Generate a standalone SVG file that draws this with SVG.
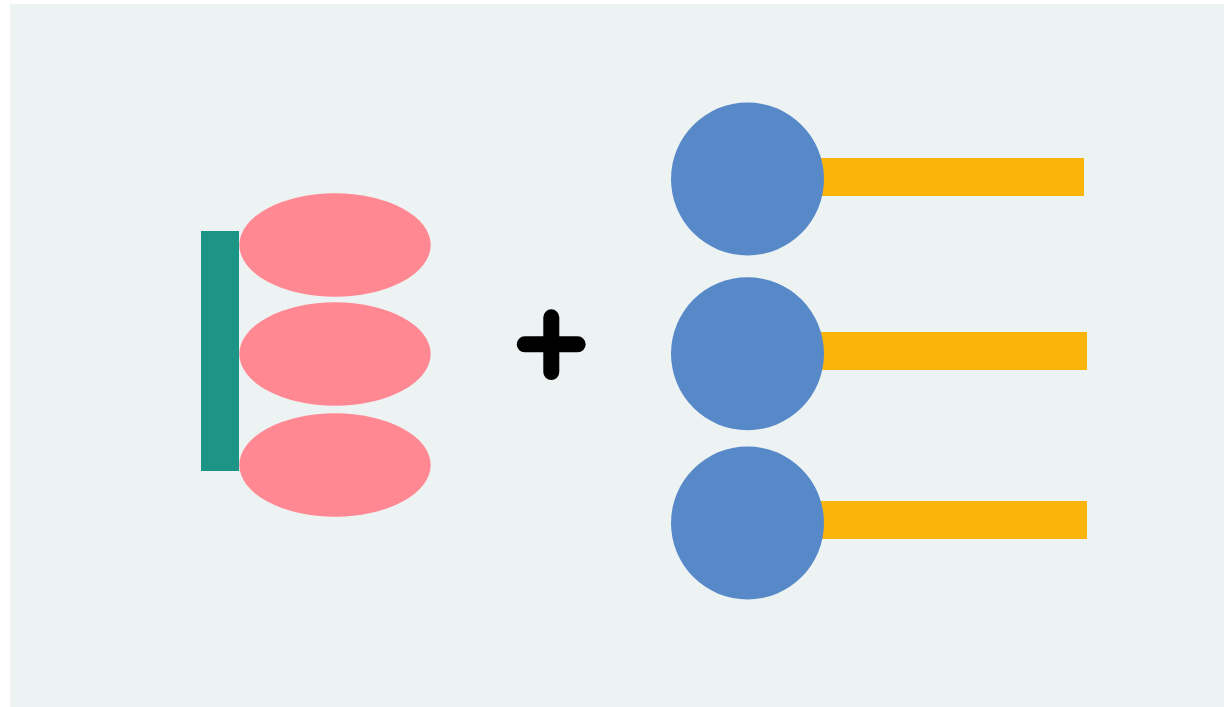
<svg xmlns="http://www.w3.org/2000/svg" width="1224" height="707" viewBox="0 0 1224 707">
<style>
.bg{fill:#edf3f3}
.teal{fill:#1c9486}
.pink{fill:#ff8893}
.blue{fill:#5789c8}
.bar{fill:#fbb40a}
.plus{stroke:#000;stroke-width:16;stroke-linecap:round;fill:none}
</style>
<rect width="1224" height="707" fill="#ffffff"/>
<rect class="bg" x="10" y="4" width="1214" height="703"/>
<g id="left-group">
<rect class="teal" x="201" y="231" width="38" height="240"/>
<ellipse class="pink" cx="335" cy="245" rx="95.7" ry="51.7"/>
<ellipse class="pink" cx="335" cy="354" rx="95.7" ry="51.7"/>
<ellipse class="pink" cx="335" cy="465" rx="95.7" ry="51.7"/>
</g>
<g id="plus">
<path class="plus" d="M551.3,317.3V372M524.7,344.3H577.7"/>
</g>
<g id="molecule-1">
<rect class="bar" x="800" y="158" width="284" height="38"/>
<circle class="blue" cx="747.5" cy="179" r="76.5"/>
</g>
<g id="molecule-2">
<rect class="bar" x="800" y="332" width="287" height="38"/>
<circle class="blue" cx="747.5" cy="353.7" r="76.5"/>
</g>
<g id="molecule-3">
<rect class="bar" x="800" y="501" width="287" height="38"/>
<circle class="blue" cx="747.5" cy="523" r="76.5"/>
</g>
</svg>
